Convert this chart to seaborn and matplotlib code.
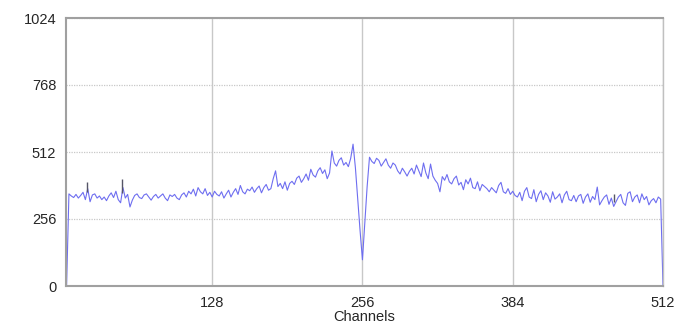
import numpy as np
import pandas as pd
import seaborn as sns
import matplotlib.pyplot as plt

# counts, every 2nd channel starting at channel 4
counts_004_066 = [0, 352, 344, 338, 350, 336, 346, 358, 330, 372,
                  322, 348, 352, 336, 344, 330, 340, 326, 344, 356,
                  338, 362, 330, 318, 376, 336, 350, 302, 328, 346,
                  352, 338]
counts_068_130 = [334, 348, 352, 340, 328, 342, 350, 336, 344, 352,
                  336, 326, 348, 342, 350, 336, 330, 348, 356, 340,
                  362, 352, 370, 344, 376, 360, 352, 372, 346, 358,
                  340, 362]
counts_132_194 = [350, 344, 360, 336, 352, 366, 340, 358, 372, 350,
                  384, 360, 352, 370, 364, 378, 358, 372, 382, 356,
                  376, 388, 366, 372, 410, 440, 380, 392, 372, 398,
                  366, 392]
counts_196_258 = [400, 388, 412, 420, 396, 410, 428, 404, 446, 424,
                  416, 440, 452, 430, 444, 410, 432, 516, 470, 458,
                  480, 490, 462, 472, 456, 488, 542, 452, 330, 210,
                  100, 240]
counts_260_322 = [380, 492, 476, 468, 488, 480, 458, 472, 486, 462,
                  450, 470, 462, 440, 428, 450, 436, 420, 438, 450,
                  428, 462, 440, 418, 470, 432, 410, 466, 420, 404,
                  392, 360]
counts_324_386 = [418, 404, 426, 398, 390, 410, 420, 386, 396, 368,
                  406, 390, 412, 376, 372, 398, 364, 388, 380, 372,
                  360, 376, 366, 356, 384, 396, 360, 354, 372, 350,
                  362, 346]
counts_388_450 = [340, 358, 326, 362, 376, 340, 334, 368, 322, 350,
                  364, 330, 356, 344, 320, 360, 332, 340, 352, 318,
                  348, 362, 330, 326, 346, 322, 344, 350, 316, 340,
                  352, 320]
counts_452_512 = [342, 330, 378, 310, 326, 340, 348, 312, 336, 304,
                  322, 340, 350, 318, 308, 354, 360, 322, 340, 348,
                  318, 352, 330, 342, 310, 326, 334, 318, 340, 332,
                  0]

# small dark markers on the trace
marker_ch = [21, 51, 470]
marker_lo = [360, 355, 322]
marker_hi = [397, 408, 350]

x_ticks = [128, 256, 384, 512]
y_ticks = [0, 256, 512, 768, 1024]

counts = (counts_004_066 + counts_068_130 + counts_132_194 + counts_196_258 +
          counts_260_322 + counts_324_386 + counts_388_450 + counts_452_512)
df = pd.DataFrame({'Channel': 4 + 2 * np.arange(len(counts)), 'Counts': counts})

sns.set_style('white')
plt.rcParams['font.family'] = ['Liberation Sans', 'DejaVu Sans']

fig = plt.figure(figsize=(6.86, 3.29), dpi=100)
ax = fig.add_axes([66 / 686, 1 - 286 / 329, 597 / 686, 268 / 329])

sns.lineplot(data=df, x='Channel', y='Counts', ax=ax, color='#6e6ef0', linewidth=0.8)
ax.vlines(marker_ch, marker_lo, marker_hi, color='#555566', linewidth=1.0)

ax.set_xlim(3.5, 512)
ax.set_ylim(0, 1024)
ax.set_xticks(x_ticks)
ax.set_yticks(y_ticks)
ax.set_xticklabels([str(t) for t in x_ticks], fontsize=10.5)
ax.set_yticklabels([str(t) for t in y_ticks], fontsize=10.5)
ax.set_xlabel('Channels', fontsize=10.5, labelpad=0)
ax.set_ylabel('')

ax.grid(axis='x', color='#c8c8c8', linewidth=1.0, linestyle='-')
ax.grid(axis='y', color='#c8c8c8', linewidth=0.9, linestyle=(0, (1, 1)))
ax.set_axisbelow(True)
ax.tick_params(axis='both', length=5, width=1, color='#b0b0b0', pad=2, direction='out')
for side in ['left', 'top', 'bottom']:
    ax.spines[side].set_color('#a0a0a0')
    ax.spines[side].set_linewidth(1.5)
ax.spines['right'].set_color('#c0c0c0')
ax.spines['right'].set_linewidth(1.0)

fig.savefig('out.png', dpi=100)
